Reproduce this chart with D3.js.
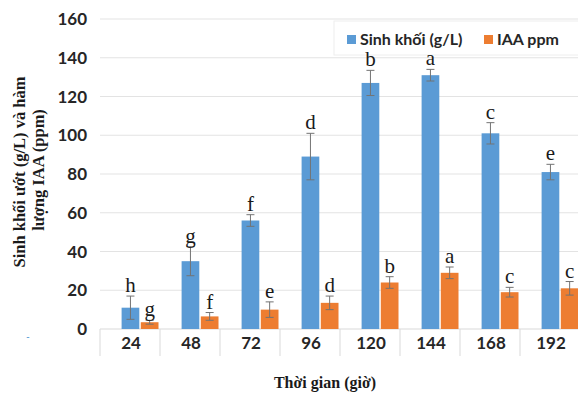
<!DOCTYPE html>
<html><head><meta charset="utf-8">
<script src="https://cdn.jsdelivr.net/npm/d3@7"></script>
<style>body{margin:0;background:#fff}svg{display:block}</style>
</head><body>
<svg id="c" width="578" height="394"></svg>
<script>
const categories = ["24","48","72","96","120","144","168","192"];
const biomass = [11, 35, 56, 89, 127, 131, 101, 81];
const biomassErr = [6, 7.5, 3, 12, 6.5, 3, 5.5, 4];
const biomassLetters = ["h","g","f","d","b","a","c","e"];
const iaa = [3.5, 6.5, 10, 13.5, 24, 29, 19, 21];
const iaaErr = [1, 2, 4, 3.5, 3, 3, 2.5, 3.5];
const iaaLetters = ["g","f","e","d","b","a","c","c"];
const yTicks = [0,20,40,60,80,100,120,140,160];
const seriesNames = ["Sinh khối (g/L)", "IAA ppm"];
const colors = ["#5B9BD5", "#ED7D31"];

const svg = d3.select("#c");
const x = d3.scaleBand().domain(categories).range([100, 580]).padding(0);
const y = d3.scaleLinear().domain([0,160]).range([329, 19]);
const bw = x.bandwidth();

// gridlines
svg.append("g").selectAll("line").data(yTicks.filter(d=>d>0)).join("line")
  .attr("x1",100).attr("x2",578).attr("y1",d=>y(d)).attr("y2",d=>y(d))
  .attr("stroke","#e3e3e3").attr("stroke-width",1.2);

// legend (behind marks)
const lg = svg.append("g");
lg.append("rect").attr("x",334).attr("y",21).attr("width",250).attr("height",34)
  .attr("fill","#fff").attr("stroke","#eeeeee");
const legX = [347, 484];
seriesNames.forEach((n,i)=>{
  lg.append("rect").attr("x",legX[i]).attr("y",35).attr("width",9).attr("height",9).attr("fill",colors[i]);
  lg.append("text").attr("x",legX[i]+13).attr("y",39.5).attr("dy","0.36em")
    .attr("font-family","Lato, 'Liberation Sans', sans-serif").attr("font-weight","bold")
    .attr("font-size",16).attr("fill","#262626").text(n);
});

// y tick labels
svg.append("g").selectAll("text").data(yTicks).join("text")
  .attr("x",87).attr("y",d=>y(d)).attr("dy","0.36em").attr("text-anchor","end")
  .attr("font-family","Lato, 'Liberation Sans', sans-serif").attr("font-weight","bold")
  .attr("font-size",17).attr("fill","#262626").text(d=>d);

// x axis table lines
svg.append("line").attr("x1",100).attr("x2",578).attr("y1",y(0)).attr("y2",y(0))
  .attr("stroke","#d9d9d9").attr("stroke-width",1.2);
svg.append("g").selectAll("line").data(categories).join("line")
  .attr("x1",d=>x(d)).attr("x2",d=>x(d)).attr("y1",y(0)).attr("y2",356)
  .attr("stroke","#e0e0e0").attr("stroke-width",1.2);
svg.append("g").selectAll("text").data(categories).join("text")
  .attr("x",d=>x(d)+bw/2+1).attr("y",343).attr("dy","0.36em").attr("text-anchor","middle")
  .attr("font-family","Lato, 'Liberation Sans', sans-serif").attr("font-weight","bold")
  .attr("font-size",17).attr("fill","#262626").text(d=>d);

const series = [
  {vals: biomass, err: biomassErr, letters: biomassLetters, off: 0.36, color: colors[0]},
  {vals: iaa, err: iaaErr, letters: iaaLetters, off: 0.68, color: colors[1]}
];
const barW = bw*0.295;
series.forEach(s => {
  const g = svg.append("g");
  const data = categories.map((c,i)=>({c, v:s.vals[i], e:s.err[i], l:s.letters[i]}));
  g.selectAll("rect").data(data).join("rect")
    .attr("x",d=>x(d.c)+bw*s.off).attr("width",barW)
    .attr("y",d=>y(d.v)).attr("height",d=>y(0)-y(d.v)).attr("fill",s.color);
  const cx = d=>x(d.c)+bw*s.off+barW/2;
  g.selectAll("line.v").data(data).join("line").attr("class","v")
    .attr("x1",cx).attr("x2",cx).attr("y1",d=>y(d.v+d.e)).attr("y2",d=>y(d.v-d.e))
    .attr("stroke","#737373").attr("stroke-width",1);
  ["+","-"].forEach(sg=>{
    g.selectAll("line.c"+(sg==="+"?"t":"b")).data(data).join("line").attr("class","c"+(sg==="+"?"t":"b"))
      .attr("x1",d=>cx(d)-4).attr("x2",d=>cx(d)+4)
      .attr("y1",d=>y(sg==="+"?d.v+d.e:d.v-d.e)).attr("y2",d=>y(sg==="+"?d.v+d.e:d.v-d.e))
      .attr("stroke","#737373").attr("stroke-width",1);
  });
  g.selectAll("text").data(data).join("text")
    .attr("x",cx).attr("y",d=>y(d.v+d.e)-4).attr("text-anchor","middle")
    .attr("font-family","'Liberation Serif', 'DejaVu Serif', serif").attr("font-size",21)
    .attr("fill","#1a1a1a").text(d=>d.l);
});

// axis titles
svg.append("text").attr("transform","translate(19,172) rotate(-90)").attr("text-anchor","middle")
  .attr("dy","0.36em").attr("font-family","'Liberation Serif', serif").attr("font-weight","bold")
  .attr("font-size",16.5).attr("fill","#1a1a1a").text("Sinh khối ướt (g/L) và hàm");
svg.append("text").attr("transform","translate(38,170) rotate(-90)").attr("text-anchor","middle")
  .attr("dy","0.36em").attr("font-family","'Liberation Serif', serif").attr("font-weight","bold")
  .attr("font-size",16.5).attr("fill","#1a1a1a").text("lượng IAA (ppm)");
svg.append("text").attr("x",325).attr("y",382).attr("dy","0.36em").attr("text-anchor","middle")
  .attr("font-family","'Liberation Serif', serif").attr("font-weight","bold")
  .attr("font-size",16).attr("fill","#1a1a1a").text("Thời gian (giờ)");
svg.append("text").attr("x",28).attr("y",340).attr("text-anchor","middle")
  .attr("font-family","'Liberation Sans', sans-serif").attr("font-size",10).attr("fill","#5B9BD5").text("-");
</script>
</body></html>
